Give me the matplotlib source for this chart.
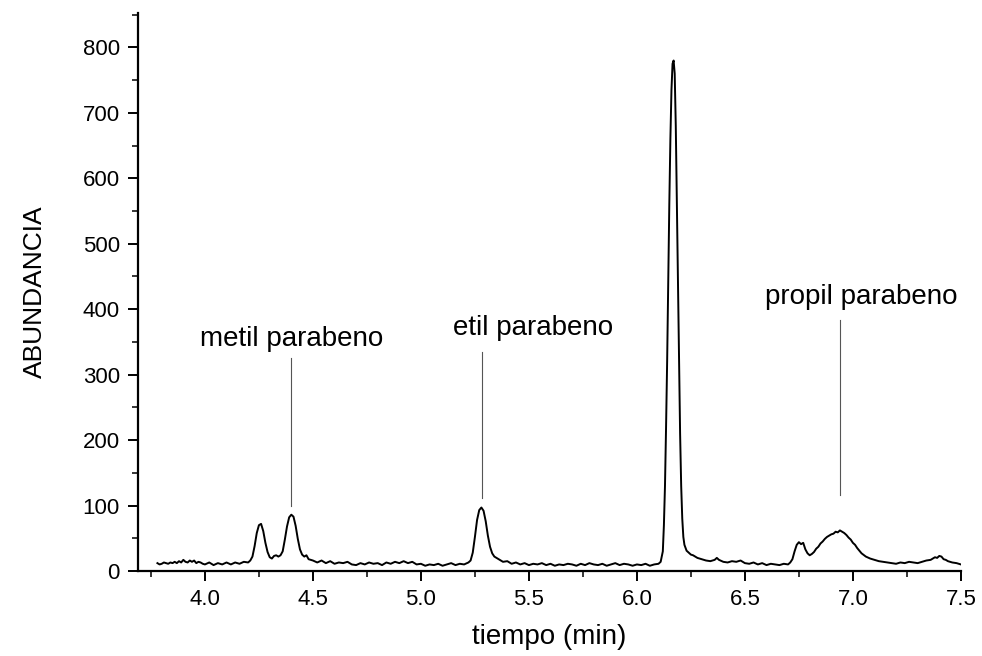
import matplotlib

matplotlib.use("Agg")
import matplotlib.pyplot as plt
from matplotlib.ticker import MultipleLocator

plt.rcParams["font.family"] = ["Liberation Sans", "DejaVu Sans"]

# chromatogram trace (min, counts)
tiempo = [
    3.78, 3.79, 3.80, 3.81, 3.82, 3.83, 3.84, 3.85, 3.86, 3.87, 3.88, 3.89,
    3.90, 3.91, 3.92, 3.93, 3.94, 3.95, 3.96, 3.97, 3.98, 3.99,
    4.00, 4.02, 4.04, 4.06, 4.08, 4.10, 4.12, 4.14, 4.16, 4.18, 4.20, 4.21,
    4.22, 4.23, 4.24, 4.25, 4.26, 4.27, 4.28, 4.29, 4.30, 4.31, 4.32, 4.33,
    4.34, 4.35, 4.36, 4.37, 4.38, 4.39, 4.40, 4.41, 4.42, 4.43, 4.44, 4.45,
    4.46, 4.47, 4.48, 4.50, 4.52, 4.54, 4.56, 4.58, 4.60, 4.62, 4.64, 4.66,
    4.68, 4.70, 4.72, 4.74, 4.76, 4.78, 4.80, 4.82, 4.84, 4.86, 4.88, 4.90,
    4.92, 4.94, 4.96, 4.98, 5.00, 5.02, 5.04, 5.06, 5.08, 5.10, 5.12, 5.14,
    5.16, 5.18, 5.20, 5.22, 5.23, 5.24, 5.25, 5.26, 5.27, 5.28, 5.29, 5.30,
    5.31, 5.32, 5.33, 5.34, 5.35, 5.36, 5.38, 5.40, 5.42, 5.44, 5.46, 5.48,
    5.50, 5.52, 5.54, 5.56, 5.58, 5.60, 5.62, 5.64, 5.66, 5.68, 5.70, 5.72,
    5.74, 5.76, 5.78, 5.80, 5.82, 5.84, 5.86, 5.88, 5.90, 5.92, 5.94, 5.96,
    5.98, 6.00, 6.02, 6.04, 6.06, 6.08, 6.10, 6.11, 6.12, 6.125, 6.13, 6.135,
    6.14, 6.145, 6.15, 6.155, 6.16, 6.165, 6.17, 6.175, 6.18, 6.185, 6.19,
    6.195, 6.20, 6.205, 6.21, 6.215, 6.22, 6.23, 6.24, 6.25, 6.26, 6.27, 6.28,
    6.30, 6.32, 6.34, 6.36, 6.37, 6.38, 6.40, 6.42, 6.44, 6.46, 6.48, 6.50,
    6.52, 6.54, 6.56, 6.58, 6.60, 6.62, 6.64, 6.66, 6.68, 6.70, 6.71, 6.72,
    6.73, 6.74, 6.75, 6.76, 6.77, 6.78, 6.79, 6.80, 6.81, 6.82, 6.83, 6.84,
    6.85, 6.86, 6.87, 6.88, 6.89, 6.90, 6.91, 6.92, 6.93, 6.94, 6.95, 6.96,
    6.97, 6.98, 6.99, 7.00, 7.01, 7.02, 7.03, 7.04, 7.06, 7.08, 7.10, 7.12,
    7.14, 7.16, 7.18, 7.20, 7.22, 7.24, 7.26, 7.28, 7.30, 7.32, 7.34, 7.36,
    7.37, 7.38, 7.39, 7.40, 7.41, 7.42, 7.43, 7.44, 7.46, 7.48, 7.50,
]
abundancia = [
    12, 10, 11, 13, 12, 11, 13, 12, 14, 12, 15, 13,
    17, 14, 13, 16, 14, 16, 12, 14, 13, 11,
    10, 13, 9, 12, 10, 13, 10, 13, 11, 14, 13, 16,
    22, 38, 58, 70, 72, 61, 43, 29, 21, 19, 23, 24,
    22, 24, 30, 48, 68, 82, 86, 83, 69, 49, 33, 25,
    22, 24, 18, 16, 13, 16, 12, 15, 11, 13, 12, 14,
    10, 9, 12, 10, 13, 11, 12, 9, 13, 11, 14, 12,
    15, 12, 14, 10, 11, 8, 10, 9, 11, 8, 10, 12,
    9, 11, 10, 13, 16, 28, 52, 78, 93, 97, 92, 76,
    54, 37, 27, 22, 20, 18, 14, 15, 11, 13, 10, 12,
    9, 11, 10, 12, 9, 11, 8, 10, 9, 11, 10, 8,
    11, 9, 12, 10, 9, 11, 8, 10, 12, 9, 11, 10,
    8, 10, 9, 11, 8, 10, 11, 14, 30, 70, 130, 220,
    320, 440, 560, 660, 735, 775, 780, 760, 680, 560, 430,
    310, 210, 130, 80, 52, 40, 31, 28, 25, 24, 22, 20,
    18, 16, 15, 17, 20, 17, 14, 13, 15, 14, 16, 12,
    11, 13, 10, 12, 9, 11, 10, 9, 11, 10, 13, 18,
    30, 40, 44, 41, 43, 33, 27, 24, 26, 29, 34, 37,
    42, 45, 49, 52, 54, 56, 57, 60, 59, 62, 60, 58,
    55, 51, 48, 43, 40, 35, 31, 27, 22, 19, 17, 15,
    14, 13, 12, 11, 13, 12, 14, 13, 12, 14, 16, 17,
    19, 21, 20, 23, 22, 18, 17, 15, 13, 12, 10,
]

# labelled peaks: text, text position, line x, line y range
etiquetas = ["metil parabeno", "etil parabeno", "propil parabeno"]
texto_x = [4.40, 5.52, 7.04]
texto_y = [355, 372, 418]
linea_x = [4.40, 5.285, 6.94]
linea_y0 = [100, 112, 116]
linea_y1 = [326, 334, 384]


fig = plt.figure(figsize=(9.82, 6.56), dpi=100)
ax = fig.add_axes([0.1405, 0.1296, 0.838, 0.851])

ax.plot(tiempo, abundancia, color="#000000", linewidth=1.4)

for label, tx, ty, lx, ly0, ly1 in zip(etiquetas, texto_x, texto_y, linea_x, linea_y0, linea_y1):
    ax.plot([lx, lx], [ly0, ly1], color="#555555", linewidth=0.8)
    ax.text(tx, ty, label, ha="center", va="center", fontsize=20, color="#000000")

ax.set_xlim(3.69, 7.5)
ax.set_ylim(0, 853)
ax.xaxis.set_major_locator(MultipleLocator(0.5))
ax.xaxis.set_minor_locator(MultipleLocator(0.25))
ax.yaxis.set_major_locator(MultipleLocator(100))
ax.yaxis.set_minor_locator(MultipleLocator(50))
ax.xaxis.set_major_formatter(lambda v, pos: f"{v:.1f}")

ax.tick_params(which="major", direction="out", length=7, width=1.4, labelsize=16, pad=6)
ax.tick_params(which="minor", direction="out", length=4, width=1.1)
ax.spines[["top", "right"]].set_visible(False)
for side in ["left", "bottom"]:
    ax.spines[side].set_linewidth(1.6)

ax.set_xlabel("tiempo (min)", fontsize=20, labelpad=10)
ax.set_ylabel("ABUNDANCIA", fontsize=19, labelpad=26)

fig.savefig("out.png", dpi=100, facecolor="#ffffff")
plt.close(fig)
